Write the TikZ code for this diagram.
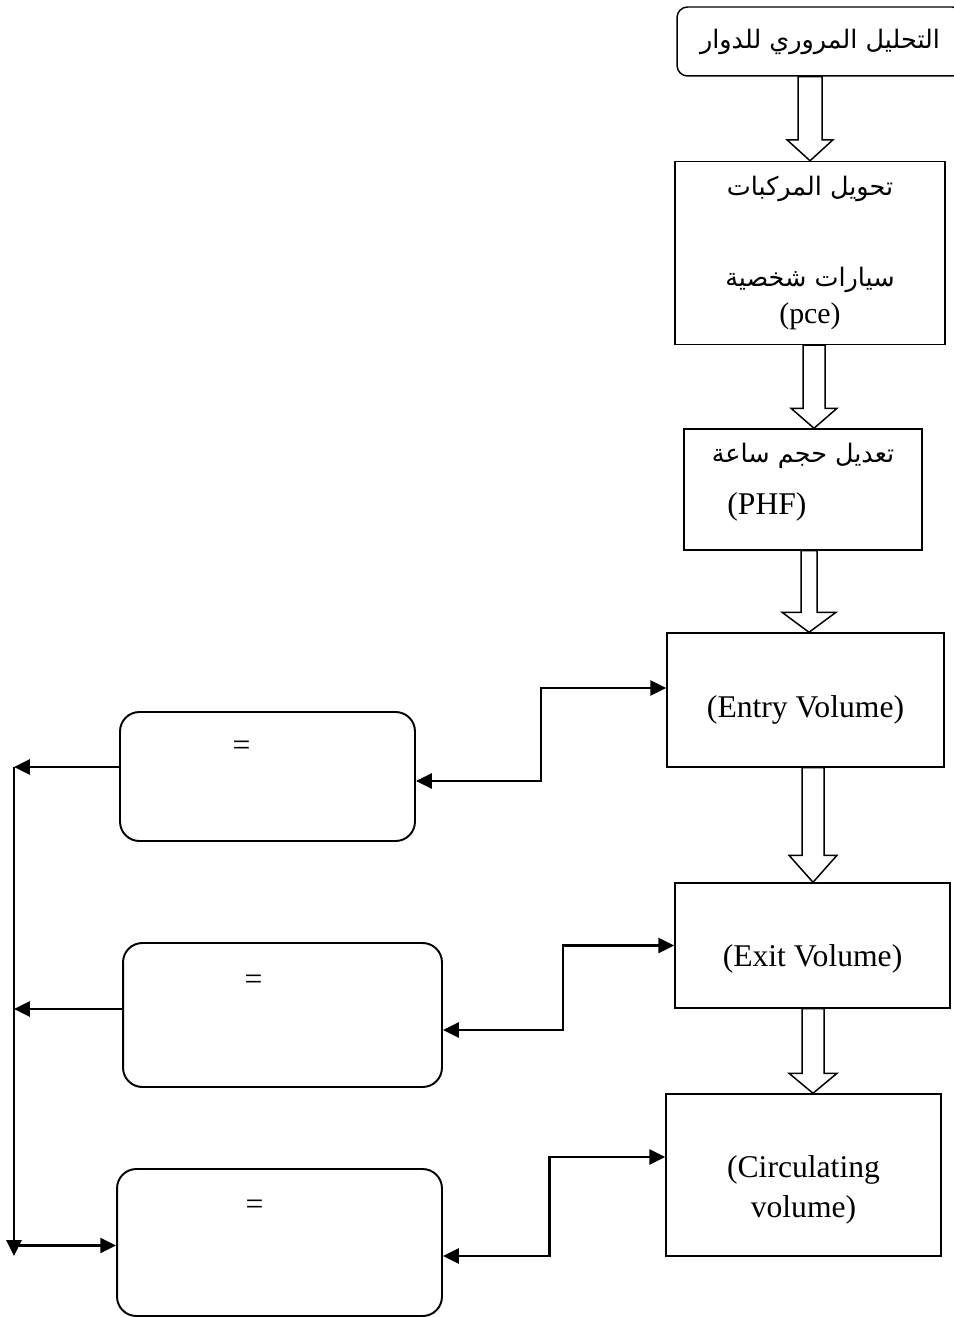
\documentclass[tikz,border=0pt]{standalone}
\usepackage{fontspec}
\setmainfont{Liberation Serif}
\newfontfamily\arfont[Script=Arabic]{DejaVu Sans}
\TeXXeTstate=1
\usetikzlibrary{arrows.meta,calc,positioning}
\newcommand{\artext}[1]{{\arfont\fontsize{14.5}{18}\selectfont\beginR #1\endR}}

\begin{document}
\begin{tikzpicture}[x=0.02cm, y=-0.02cm, >={Triangle[length=9pt,width=8.5pt]},
    every node/.style={font=\fontsize{18}{22}\selectfont, text=black},
    stepbox/.style={draw, line width=0.85pt, align=center, inner sep=0pt},
    roundbox/.style={draw, line width=1.1pt, rounded corners=11pt, inner sep=0pt},
    link/.style={line width=1.4pt},
    hollowarrow/.style={draw, fill=white, line width=0.85pt}]
        \useasboundingbox (0,0) rectangle (953,1317);

        % Main column
        \node[stepbox, rounded corners=6pt, minimum width=5.72cm, minimum height=1.38cm] (rnd) at (820,41.5) {\artext{التحليل المروري للدوار}};
        \node[stepbox, minimum width=5.4cm, minimum height=3.66cm] (pce) at (810,253) {\artext{تحويل المركبات}\\[30pt]\artext{سيارات شخصية}\\[-1pt]{\fontsize{17}{20}\selectfont (pce)}};
        \node[stepbox, minimum width=4.76cm, minimum height=2.42cm] (phf) at (803,489.5) {\artext{تعديل حجم  ساعة}\\[8pt]\makebox[86pt][l]{(PHF)}\\[-10pt]\mbox{}};
        \node[stepbox, minimum width=5.54cm, minimum height=2.68cm] (entry) at (805.5,700) {\raisebox{-5.5pt}[\height][\depth]{(Entry Volume)}};
        \node[stepbox, minimum width=5.5cm, minimum height=2.5cm] (exit) at (812.5,945.5) {\raisebox{-7.5pt}[\height][\depth]{(Exit Volume)}};
        \node[stepbox, minimum width=5.5cm, minimum height=3.24cm] (circ) at (803.5,1175) {\mbox{}\\[7.5pt](Circulating\\[1pt]volume)};

        % Hollow arrows
        \foreach \a/\b/\x/\s/\h/\l in {rnd/pce/810/12/23/21, pce/phf/814/11/23/20, phf/entry/809/8/27/20, entry/exit/813/11/24/27, exit/circ/813/11/24/20}
            \draw[hollowarrow] ($(\x,0 |- \a.south)+(-\s,0)$) -- ($(\x,0 |- \a.south)+(\s,0)$)
                -- ($(\x,0 |- \b.north)+(\s,-\l)$) -- ($(\x,0 |- \b.north)+(\h,-\l)$)
                -- (\x,0 |- \b.north) -- ($(\x,0 |- \b.north)+(-\h,-\l)$)
                -- ($(\x,0 |- \b.north)+(-\s,-\l)$) -- cycle;

        % Result boxes
        \node[roundbox, minimum width=5.9cm, minimum height=2.58cm] (qa) at (267.5,776.5) {};
        \node[roundbox, minimum width=6.38cm, minimum height=2.88cm] (qb) at (282.5,1015) {};
        \node[roundbox, minimum width=6.5cm, minimum height=2.94cm] (qc) at (279.5,1242.5) {};
        \node (qaeq) at ($(qa.north)+(-26,37)$) {=};
        \node (qbeq) at ($(qb.north)+(-29,40)$) {=};
        \node (qceq) at ($(qc.north)+(-25,39)$) {=};

        % Links to the volumes
        \draw[link, <->] ($(qa.east)+(0,4.5)$) -| ($(qa.east)!0.5!(entry.west)$) |- ($(entry.west)+(0,-12)$);
        \draw[link, <->] ($(qb.east)+(0,15)$) -| ($(qb.east)!0.52!(exit.west)$) |- (exit.west);
        \draw[link, <->] ($(qc.east)+(0,13.5)$) -| ($(qc.east)!0.48!(circ.west)$) |- ($(circ.west)+(0,-18)$);

        % Left collector
        \coordinate (spinetop) at (14,767);
        \coordinate (spinebot) at (14,1256);
        \coordinate (qbout) at ($(qb.west)+(0,-6)$);
        \coordinate (qcin) at ($(qc.west)+(0,3)$);
        \draw[link, ->] (spinetop) -- (spinebot);
        \draw[link, ->] (qa.west |- spinetop) -- (spinetop);
        \draw[link, ->] (qbout) -- (qbout -| spinetop);
        \draw[link, ->] (qcin -| spinetop) -- (qcin);
    \end{tikzpicture}
\end{document}
